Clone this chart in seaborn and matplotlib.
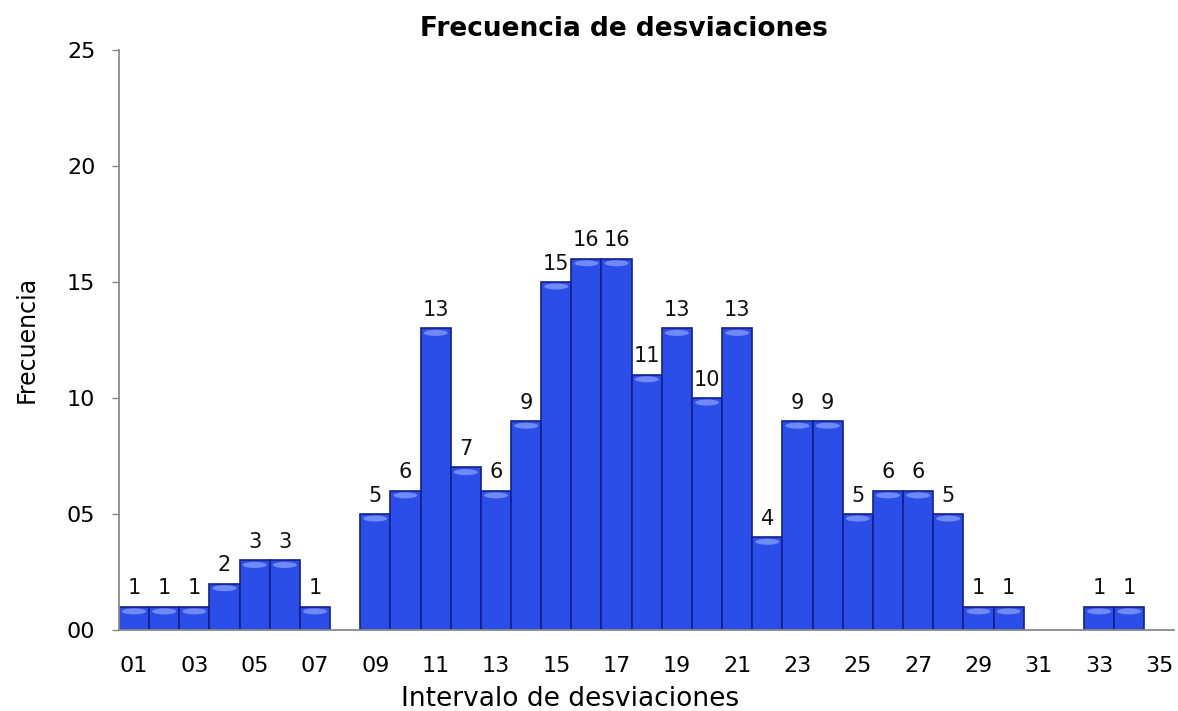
import matplotlib
matplotlib.use("Agg")
import matplotlib.pyplot as plt
from matplotlib.patches import Ellipse
import seaborn as sns
import pandas as pd

categories = list(range(1, 35))
frequencies = [1, 1, 1, 2, 3, 3, 1, 0, 5, 6, 13, 7, 6, 9, 15, 16, 16, 11, 13, 10,
               13, 4, 9, 9, 5, 6, 6, 5, 1, 1, 0, 0, 1, 1]
x_ticks = list(range(1, 36, 2))
x_tick_labels = [f"{t:02d}" for t in x_ticks]
y_ticks = [0, 5, 10, 15, 20, 25]
y_tick_labels = ["00", "05", "10", "15", "20", "25"]

sns.set_theme(style="white")
plt.rcParams['font.family'] = ['DejaVu Sans']
plt.rcParams['text.color'] = 'black'
plt.rcParams['axes.labelcolor'] = 'black'
plt.rcParams['xtick.color'] = 'black'
plt.rcParams['ytick.color'] = 'black'

df = pd.DataFrame({"intervalo": categories, "frecuencia": frequencies})
df = df[df["frecuencia"] > 0]

fig = plt.figure(figsize=(11.78, 7.11), dpi=100)
ax = fig.add_axes([0.101, 0.114, 0.896, 0.816])

sns.barplot(data=df, x="intervalo", y="frecuencia", native_scale=True, width=1.0,
            color="#2b4ee8", saturation=1, edgecolor="#13208a", linewidth=1.2, ax=ax)

# subtle 3D-style highlight near the top of each bar (derived from bar geometry)
for p in list(ax.patches):
    h = p.get_height()
    if h <= 0:
        continue
    cx = p.get_x() + p.get_width() / 2
    ax.add_patch(Ellipse((cx, h - 0.2), p.get_width() * 0.8, 0.26,
                         facecolor="#9db1ff", edgecolor="none", alpha=0.6, zorder=3))

for c in ax.containers:
    ax.bar_label(c, labels=[f"{int(v)}" for v in c.datavalues], padding=6,
                 fontsize=15, color="#111111")

ax.set_xlim(0.5, 35.5)
ax.set_ylim(0, 25)
ax.set_xticks(x_ticks)
ax.set_xticklabels(x_tick_labels, fontsize=16)
ax.set_yticks(y_ticks)
ax.set_yticklabels(y_tick_labels, fontsize=16)
ax.tick_params(axis="x", length=0, pad=19)
ax.tick_params(axis="y", length=5, width=1, color="#888888", pad=12, left=True)

for s in ["top", "right"]:
    ax.spines[s].set_visible(False)
for s in ["left", "bottom"]:
    ax.spines[s].set_color("#8a8a8a")
    ax.spines[s].set_linewidth(1.3)

ax.set_xlabel("Intervalo de desviaciones", fontsize=19, labelpad=4)
ax.xaxis.set_label_coords(0.427, -0.097)
ax.set_ylabel("Frecuencia", fontsize=17, labelpad=20)
ax.set_title("Frecuencia de desviaciones", fontsize=19, fontweight="bold", pad=10, x=0.478)

fig.savefig("out.png", dpi=100)
